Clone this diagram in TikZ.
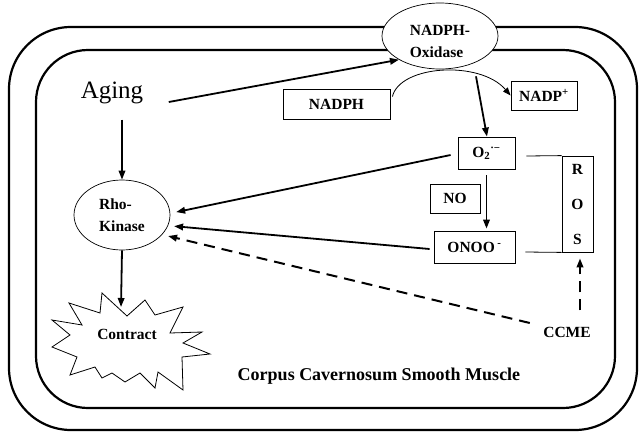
\documentclass[tikz,border=0pt]{standalone}
\usepackage{fontspec}
\setmainfont{Liberation Serif}
\usetikzlibrary{arrows.meta,shapes.geometric,calc}
\begin{document}
\begin{tikzpicture}[x=1pt,y=-1pt,
  lbl/.style={font=\fontsize{15.5}{21.5}\selectfont\bfseries},
  bx/.style={draw, line width=0.8pt, lbl, inner sep=0pt, minimum width=#1},
  ell/.style={draw, ellipse, line width=0.7pt, fill=white, lbl, align=left, inner sep=0pt},
  frame/.style={line width=2.2pt},
  arr/.style={line width=1.8pt, -{Triangle[length=9pt,width=6.5pt]}},
  dsh/.style={line width=2pt, dash pattern=on 11pt off 7pt, -{Triangle[length=9pt,width=6.5pt]}},
  thinline/.style={line width=0.8pt}
]
\useasboundingbox (0,0) rectangle (641,432);
% cell membranes
\draw[frame, rounded corners=62pt] (9,27) rectangle (637,430);
\draw[frame, rounded corners=52pt] (36,50) rectangle (615,408);

% nodes
\node (aging) at (112,93) {\fontsize{25}{28}\selectfont Aging};
\node[ell, minimum width=96pt, minimum height=70pt] (rho) at (122,215) {Rho-\\Kinase};
\node[ell, minimum width=116pt, minimum height=66pt] (nox) at (440,36)
  {\raisebox{-10pt}[0pt][0pt]{\begin{tabular}{@{}l@{}}NADPH-\\[0.5pt]Oxidase\end{tabular}}};
\node[bx=107pt, minimum height=30pt] (nadph) at (336.5,104) {NADPH};
\node[bx=66pt, minimum height=29pt] (nadp) at (544,95.5) {NADP\textsuperscript{+}};
\node[bx=57pt, minimum height=32pt] (o2) at (486.5,153) {O\textsubscript{2}\textsuperscript{·−}};
\node[bx=50pt, minimum height=29pt] (no) at (455,198.5) {NO};
\node[bx=81pt, minimum height=32pt] (onoo) at (474.5,247) {ONOO\,\textsuperscript{-}};
\node[bx=31pt, minimum height=96pt, align=center, font=\fontsize{15.5}{35}\selectfont\bfseries] (ros) at (577.5,204) {R\\O\\S};
\node[lbl] (ccme) at (567,332) {CCME};
\node[font=\fontsize{18}{20}\selectfont\bfseries] (ccsm) at (379,376) {Corpus Cavernosum Smooth Muscle};

% contract starburst
\draw[line width=0.8pt, fill=white]
  (52,320) -- (82,325) -- (69,303) -- (100,313) -- (102,293) -- (127,316)
  -- (145,300) -- (155,315) -- (183,307) -- (170,333) -- (202,332)
  -- (183,343) -- (210,354) -- (182,357) -- (183,390) -- (158,372)
  -- (155,388) -- (140,373) -- (125,382) -- (112,373) -- (102,378)
  -- (95,367) -- (70,375) -- (77,357) -- (52,347) -- (70,335) -- cycle;
\node[lbl] (contract) at (127,334) {Contract};
\coordinate (burst) at (121,307);

% connectors
\draw[arr] ($(aging.east)+(22,9)$) -- (nox.210);
\draw[arr, shorten <=12pt] (rho.north |- aging.south) -- (rho.north);
\draw[arr] (rho.south) -- (burst);
\draw[arr] ($(nox.south)+(36,7)$) -- (o2.north -| {$(nox.south)+(47,0)$});
\draw[thinline, -{Triangle[length=8pt,width=6pt]}] ($(nadph.north east)+(2,8)$) .. controls (400,65) and (480,60) .. (nadp.west);
\draw[arr, shorten >=6pt] ($(o2.west)+(-7,2)$) -- (rho.2);
\draw[arr, shorten <=6pt, shorten >=2pt] (o2.south) -- (o2.south |- onoo.north);
\draw[arr, shorten >=6pt] ($(onoo.west)+(-4,2)$) -- (rho.-13);
\draw[dsh, shorten >=6pt] ($(ccme.west)+(-10,-9)$) -- (rho.-26);
\draw[dsh] ($(ros.south)+(2.5,58)$) -- ($(ros.south)+(2.5,6)$);
\draw[thinline] ($(o2.east)+(11,3)$) -- (ros.north west);
\draw[thinline] ($(onoo.east)+(10,5)$) -- (ros.south west);
\end{tikzpicture}
\end{document}
